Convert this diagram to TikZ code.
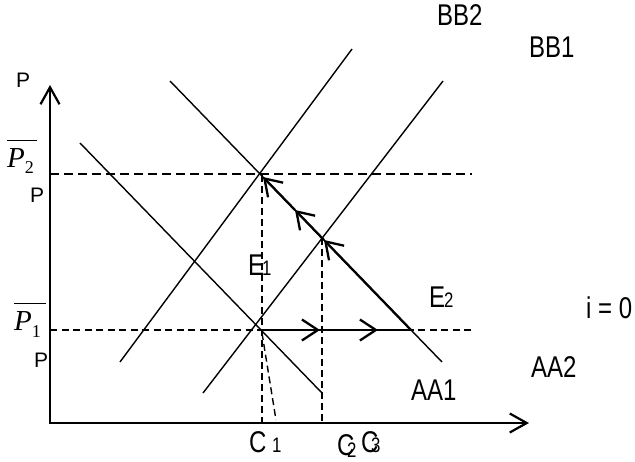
\documentclass[tikz,border=0pt]{standalone}
\usepackage{fontspec}
\setmainfont{Liberation Sans}
\newfontfamily\lblfont[FakeStretch=0.8]{Liberation Sans}
\newfontfamily\serifit{Liberation Serif}
\usetikzlibrary{arrows.meta}
\tikzset{
  curve/.style={line width=1.4pt},
  axis/.style={line width=2.2pt, line join=miter, {Straight Barb[length=17pt,width=19pt]}-{Straight Barb[length=17pt,width=19pt]}},
  level2/.style={line width=2.2pt, dash pattern=on 9pt off 5pt},
  level1/.style={line width=1.4pt, dash pattern=on 7pt off 4.5pt},
  guide/.style={line width=1.4pt, dash pattern=on 7pt off 4pt},
  path line/.style={line width=2.3pt},
  path arrow/.style={line width=2.3pt, -{Straight Barb[length=16pt,width=21pt]}},
  big/.style={font=\lblfont\fontsize{30}{31}\selectfont, inner sep=0pt, anchor=base west},
  small/.style={font=\lblfont\fontsize{21}{22}\selectfont, inner sep=0pt, anchor=base west},
  plbl/.style={font=\fontsize{21}{22}\selectfont, inner sep=0pt, anchor=base west},
  mlbl/.style={font=\fontsize{29}{30}\selectfont, inner sep=0pt, anchor=base west}
}
\begin{document}
\begin{tikzpicture}[x=1pt,y=-1pt]
\useasboundingbox (0,0) rectangle (635,461);
% axes
\coordinate (O) at (50,423);
\coordinate (Ytip) at (50,85);
\coordinate (Xtip) at (529,423);
\draw[axis] (Ytip) -- (O) -- (Xtip);
% key points
\coordinate (L1a) at (80,143);  \coordinate (L1b) at (322,393);
\coordinate (L2a) at (170,81);  \coordinate (L2b) at (442,362);
\coordinate (L3a) at (120,362); \coordinate (L3b) at (352,49);
\coordinate (L4a) at (203,393); \coordinate (L4b) at (443,81);
\coordinate (P2l) at (50,174);  \coordinate (P2r) at (472,174);
\coordinate (P1l) at (50,330);  \coordinate (P1r) at (471,330);
\coordinate (A) at (262,175);   \coordinate (C1b) at (262,423);
\coordinate (B) at (322,238);   \coordinate (C2b) at (322,423);
\coordinate (S1) at (262,333);  \coordinate (S2) at (276,420);
\coordinate (E1) at (262,330);
\coordinate (H1) at (320,330);
\coordinate (H2) at (378,330);
\coordinate (H3) at (411,330);
\coordinate (D1) at (324,240);
\coordinate (D2) at (295,210);
\coordinate (D3) at (263,177);
% dashed guides
\draw[level2] (P2l) -- (P2r);
\draw[level1] (P1l) -- (P1r);
\draw[guide] (A) -- (C1b);
\draw[guide] (B) -- (C2b);
\draw[guide] (S1) -- (S2);
% schedules
\draw[curve] (L1a) -- (L1b);
\draw[curve] (L2a) -- (L2b);
\draw[curve] (L3a) -- (L3b);
\draw[curve] (L4a) -- (L4b);
% adjustment path
\draw[path arrow] (E1) -- (H1);
\draw[path arrow] (H1) -- (H2);
\draw[path line] (H2) -- (H3);
\draw[path arrow] (H3) -- (D1);
\draw[path arrow] (D1) -- (D2);
\draw[path arrow] (D2) -- (D3);
% labels
\node[big] (bb2) at (437,25) {BB2};
\node[big] (bb1) at (529,57) {BB1};
\node[plbl] (ptop) at (16,87) {P};
\node[mlbl] (p2bar) at (7,167) {$\overline{\rule{0pt}{25.5pt}\mbox{\serifit\itshape P\fontsize{18}{19}\selectfont\upshape\raisebox{-6pt}{2}\kern3pt}}$};
\node[plbl] (pmid) at (30,202) {P};
\node[mlbl] (p1bar) at (14,330) {$\overline{\rule{0pt}{25pt}\mbox{\serifit\itshape P\fontsize{18}{19}\selectfont\upshape\raisebox{-7pt}{1}\kern5pt}}$};
\node[plbl] (plow) at (34,367) {P};
\node[big] (e1E) at (248,275) {E};
\node[small] (e1n) at (262,275) {1};
\node[big] (e2E) at (429,307) {E};
\node[small] (e2n) at (444,307) {2};
\node[big] (i0) at (586,318) {i = 0};
\node[big] (aa2) at (531,377) {AA2};
\node[big] (aa1) at (411,400) {AA1};
\node[big] (c1C) at (249,452) {C};
\node[small] (c1n) at (272,452) {1};
\node[big] (c2C) at (337,455) {C};
\node[small] (c2n) at (347,457) {2};
\node[big] (c3C) at (361,452) {C};
\node[small] (c3n) at (371,452) {3};
\end{tikzpicture}
\end{document}
